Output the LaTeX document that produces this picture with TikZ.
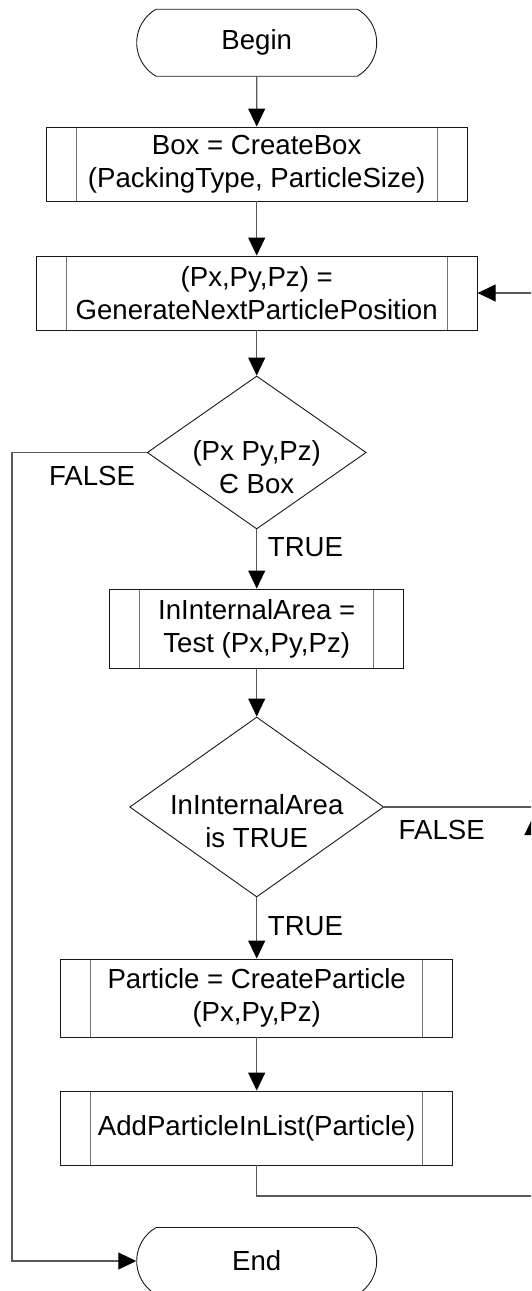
\documentclass[tikz,border=0pt]{standalone}
\usepackage{fontspec}
\setmainfont{Liberation Sans}
\usetikzlibrary{shapes.geometric,shapes.misc,arrows.meta}
\begin{document}
\begin{tikzpicture}[x=1pt,y=-1pt,
  font=\fontsize{27.6}{33}\selectfont,
  term/.style={rounded rectangle, rounded rectangle arc length=120, draw=black!90, line width=0.9pt, minimum width=240pt, minimum height=67pt, inner sep=0pt},
  sub/.style={rectangle, draw=black!90, line width=0.9pt, inner sep=0pt, align=center,
    path picture={\draw[black!55,line width=0.9pt]
      ([xshift=30pt]path picture bounding box.north west) -- ([xshift=30pt]path picture bounding box.south west)
      ([xshift=-30pt]path picture bounding box.north east) -- ([xshift=-30pt]path picture bounding box.south east);}},
  dec/.style={diamond, draw=black!90, line width=0.9pt, inner sep=0pt},
  txt/.style={align=center, inner sep=0pt},
  conn/.style={draw=black!65, line width=1.2pt},
  arr/.style={conn, -{Triangle[length=18pt,width=17pt,color=black]}},
  lab/.style={inner sep=0pt}
]
\useasboundingbox (0,0) rectangle (531,1291);
\clip (0,0) rectangle (531,1291);

\node[term] (begin) at (256.7,42.7) {Begin};
\node[sub, minimum width=421pt, minimum height=74pt] (b1) at (256.7,164) {Box = CreateBox\\(PackingType, ParticleSize)};
\node[sub, minimum width=441pt, minimum height=74pt] (b2) at (256.7,293) {(Px,Py,Pz) =\\GenerateNextParticlePosition};
\node[dec, minimum width=219pt, minimum height=153pt] (d1) at (256.7,452.5) {};
\node[txt] (d1t) at (256.7,467) {(Px Py,Pz)\\Є Box};
\node[sub, minimum width=294pt, minimum height=79pt] (b3) at (256.7,628.5) {InInternalArea =\\Test (Px,Py,Pz)};
\node[dec, minimum width=254pt, minimum height=180pt] (d2) at (256.7,807) {};
\node[txt] (d2t) at (256.7,821) {InInternalArea\\is TRUE};
\node[sub, minimum width=392pt, minimum height=78pt] (b4) at (256.7,998) {Particle = CreateParticle\\(Px,Py,Pz)};
\node[sub, minimum width=392pt, minimum height=74pt] (b5) at (256.7,1128) {AddParticleInList(Particle)};
\node[term] (end) at (256.7,1261) {End};

\coordinate (fl) at (12,452.5);
\coordinate (fr) at (533,807);
\coordinate (lr) at (533,1196);
\coordinate (lm) at (256.7,1196);
\coordinate (la) at (533,817);
\coordinate (tr) at (533,293);

\draw[arr] (begin) -- (b1);
\draw[arr] (b1) -- (b2);
\draw[arr] (b2) -- (d1);
\draw[arr] (d1) -- (b3);
\draw[arr] (b3) -- (d2);
\draw[arr] (d2) -- (b4);
\draw[arr] (b4) -- (b5);
\draw[arr] (d1.west) -- (fl) |- (end.west);
\draw[conn] (d2.east) -- (fr) -- (tr);
\draw[arr] (tr) -- (b2.east);
\draw[conn] (b5.south) -- (lm) -- (lr);
\draw[arr] (lr) -- (la);

\node[lab] (f1) at (92,476) {FALSE};
\node[lab] (t1) at (305.5,546.7) {TRUE};
\node[lab] (f2) at (441.7,830) {FALSE};
\node[lab] (t2) at (305.5,926) {TRUE};
\end{tikzpicture}
\end{document}
